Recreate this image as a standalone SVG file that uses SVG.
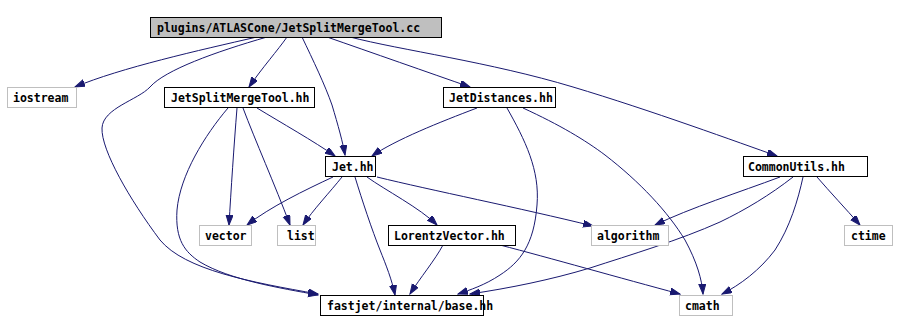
<svg xmlns="http://www.w3.org/2000/svg" width="897" height="332" viewBox="0 0 897 332">
<style>
.n rect{fill:#fff;stroke:#000;stroke-width:1}
.g rect{fill:#fff;stroke:#bfbfbf;stroke-width:1}
#root rect{fill:#bfbfbf;stroke:#000}
text{font-family:"DejaVu Sans Mono","Liberation Mono",monospace;font-size:11.5px;font-weight:bold;fill:#000}
.e path{fill:none;stroke:#191970;stroke-width:1;marker-end:url(#ah)}
</style>
<defs>
<marker id="ah" markerUnits="userSpaceOnUse" markerWidth="11" markerHeight="8" refX="10" refY="3.5" orient="auto">
<path d="M0,0 L10,3.5 L0,7 z" fill="#191970" stroke="#191970" stroke-width="1"/>
</marker>
</defs>
<rect width="897" height="332" fill="#fff"/>
<g class="e" id="edges">
<path d="M257,37 C200,50 120,68 75,87"/>
<path d="M267,37 C215,52 165,70 150,87 C138,100 103,108 102,128 C101,150 130,200 160,240 C185,270 250,282 318,294"/>
<path d="M228,108 C205,135 180,175 177,210 C175,240 185,252 200,262 C230,280 280,288 318,295"/>
<path d="M287,37 C278,50 262,68 249,87"/>
<path d="M302,37 C313,60 325,85 332,105 C338,125 343,143 345,155"/>
<path d="M327,37 C370,52 430,73 470,87"/>
<path d="M350,37 C400,50 490,62 573,87 C650,110 740,143 777,156"/>
<path d="M257,108 C280,122 315,142 335,156"/>
<path d="M477,108 C440,122 395,140 372,156"/>
<path d="M237,108 C234,145 231,190 229,225"/>
<path d="M243,108 C255,140 275,185 290,225"/>
<path d="M333,177 C305,190 270,207 247,225"/>
<path d="M342,177 C330,192 313,210 303,225"/>
<path d="M367,177 C385,190 420,208 437,225"/>
<path d="M377,177 C430,190 520,208 593,226"/>
<path d="M355,177 C362,200 372,230 380,250 C386,265 392,280 395,295"/>
<path d="M443,245 C435,260 420,278 410,294"/>
<path d="M500,245 C550,258 620,278 680,294"/>
<path d="M507,108 C525,140 540,170 537,205 C534,245 520,262 500,275 C485,285 470,290 458,294"/>
<path d="M523,108 C560,125 585,140 605,155 C640,182 668,212 685,240 C697,262 702,280 703,294"/>
<path d="M780,177 C740,192 690,208 655,225"/>
<path d="M793,177 C770,195 745,210 720,222 C680,240 630,255 590,268 C550,280 510,288 470,294"/>
<path d="M803,177 C798,200 790,227 775,250 C760,270 740,285 722,294"/>
<path d="M817,177 C830,192 845,208 860,225"/>
</g>
<g id="root" class="n"><rect x="150.5" y="17.5" width="291" height="20"/><text x="157" y="31.5">plugins/ATLASCone/JetSplitMergeTool.cc</text></g>
<g id="iostream" class="g"><rect x="7.5" y="87.5" width="69" height="20"/><text x="13" y="101.5">iostream</text></g>
<g id="jsmt" class="n"><rect x="164.5" y="87.5" width="150" height="20"/><text x="171" y="101.5">JetSplitMergeTool.hh</text></g>
<g id="jetdist" class="n"><rect x="443.5" y="87.5" width="112" height="20"/><text x="449" y="101.5">JetDistances.hh</text></g>
<g id="jet" class="n"><rect x="325.5" y="156.5" width="50" height="20"/><text x="332" y="170.5">Jet.hh</text></g>
<g id="common" class="n"><rect x="743.5" y="156.5" width="124" height="20"/><text x="748" y="170.5">CommonUtils.hh</text></g>
<g id="vector" class="g"><rect x="199.5" y="225.5" width="52" height="20"/><text x="205" y="239.5">vector</text></g>
<g id="list" class="g"><rect x="277.5" y="225.5" width="38" height="20"/><text x="287" y="239.5">list</text></g>
<g id="lorentz" class="n"><rect x="388.5" y="225.5" width="127" height="20"/><text x="394" y="239.5">LorentzVector.hh</text></g>
<g id="algorithm" class="g"><rect x="591.5" y="225.5" width="77" height="20"/><text x="597" y="239.5">algorithm</text></g>
<g id="ctime" class="g"><rect x="844.5" y="225.5" width="48" height="20"/><text x="851" y="239.5">ctime</text></g>
<g id="base" class="n"><rect x="320.5" y="295.5" width="163" height="20"/><text x="327" y="309.5">fastjet/internal/base.hh</text></g>
<g id="cmath" class="g"><rect x="679.5" y="295.5" width="53" height="20"/><text x="685" y="309.5">cmath</text></g>
</svg>
